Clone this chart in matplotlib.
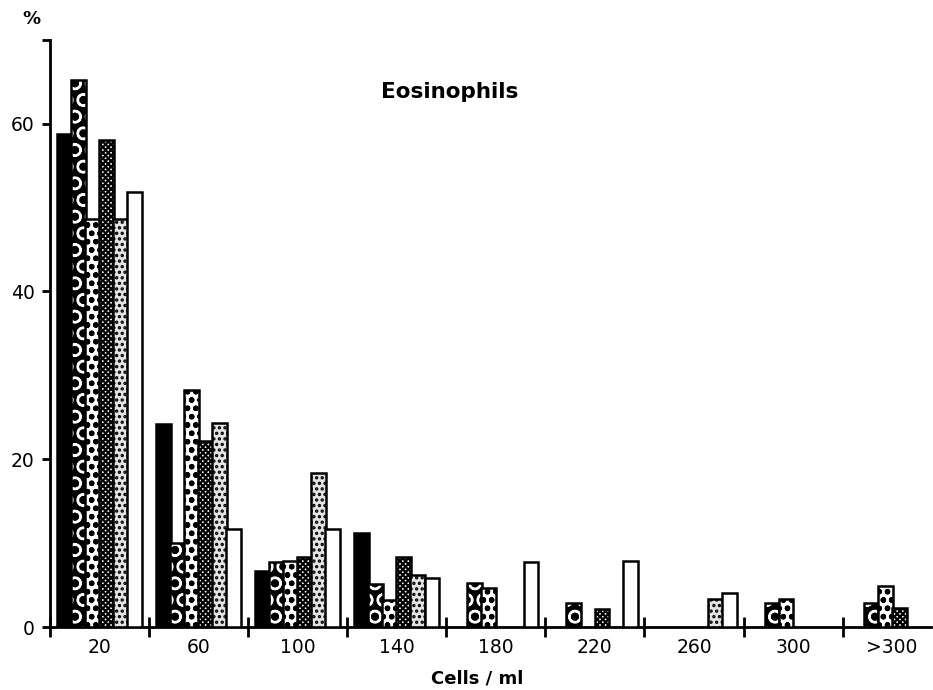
import numpy as np
import matplotlib.pyplot as plt

# Eosinophil counts, % of samples per class
groups = ['20', '60', '100', '140', '180', '220', '260', '300', '>300']
solid = [58.8, 24.2, 6.7, 11.2, 0, 0, 0, 0, 0]
wavy = [65.2, 10.0, 7.7, 5.1, 5.3, 2.9, 0, 2.9, 2.9]
rings = [48.6, 28.3, 7.9, 3.2, 4.7, 0, 0, 3.3, 4.9]
cross = [58.0, 22.2, 8.3, 8.3, 0, 2.1, 0, 0, 2.3]
dots = [48.6, 24.3, 18.4, 6.2, 0, 0, 3.3, 0, 0]
blank = [51.8, 11.7, 11.7, 5.8, 7.8, 7.9, 4.1, 0, 0]

plt.rcParams['hatch.linewidth'] = 1.6
fig = plt.figure(figsize=(9.33, 6.9), dpi=100)
ax = fig.add_axes([0.0536, 0.0913, 0.944, 0.851])

x = np.arange(len(groups))
w = 0.15
step = 0.142
off = 0.07

def draw(vals, j, face, hatch=None, hc='black'):
    v = np.array(vals)
    m = v > 0
    left = x[m] + off + j * step
    ax.bar(left, v[m], width=w, align='edge', color=face, edgecolor=hc,
           hatch=hatch, linewidth=0, zorder=2 + j)
    ax.bar(left, v[m], width=w, align='edge', fill=False, edgecolor='black',
           linewidth=1.8, zorder=2 + j)

draw(solid, 0, 'black')
draw(wavy, 1, 'black', 'O', 'white')
draw(rings, 2, 'white', 'oo')
draw(cross, 3, 'white', 'xxxxxx')
draw(dots, 4, '#e4e4e4', '...')
draw(blank, 5, 'white')

ax.set_xlim(0, 8.89)
ax.set_ylim(0, 70)
for s in ['top', 'right']:
    ax.spines[s].set_visible(False)
for s in ['left', 'bottom']:
    ax.spines[s].set_linewidth(2)

ax.set_yticks([0, 20, 40, 60, 70])
ax.set_yticklabels(['0', '20', '40', '60', ''], fontsize=13.5)
ax.tick_params(axis='y', length=6, width=2, pad=5)
ax.set_xticks(np.arange(0, 9))
ax.set_xticklabels([])
ax.tick_params(axis='x', direction='inout', length=14, width=2)
for i, g in enumerate(groups):
    ax.text(i + 0.5, -1.3, g, ha='center', va='top', fontsize=13.5)

fig.text(0.482, 0.867, 'Eosinophils', fontsize=15.5,
         fontweight='bold', ha='center', va='center')
fig.text(0.024, 0.973, '%', fontsize=13, fontweight='bold', ha='left', va='center')
fig.text(0.511, 0.017, 'Cells / ml', fontsize=13, fontweight='bold', ha='center', va='center')

plt.savefig('out.png', dpi=100)
